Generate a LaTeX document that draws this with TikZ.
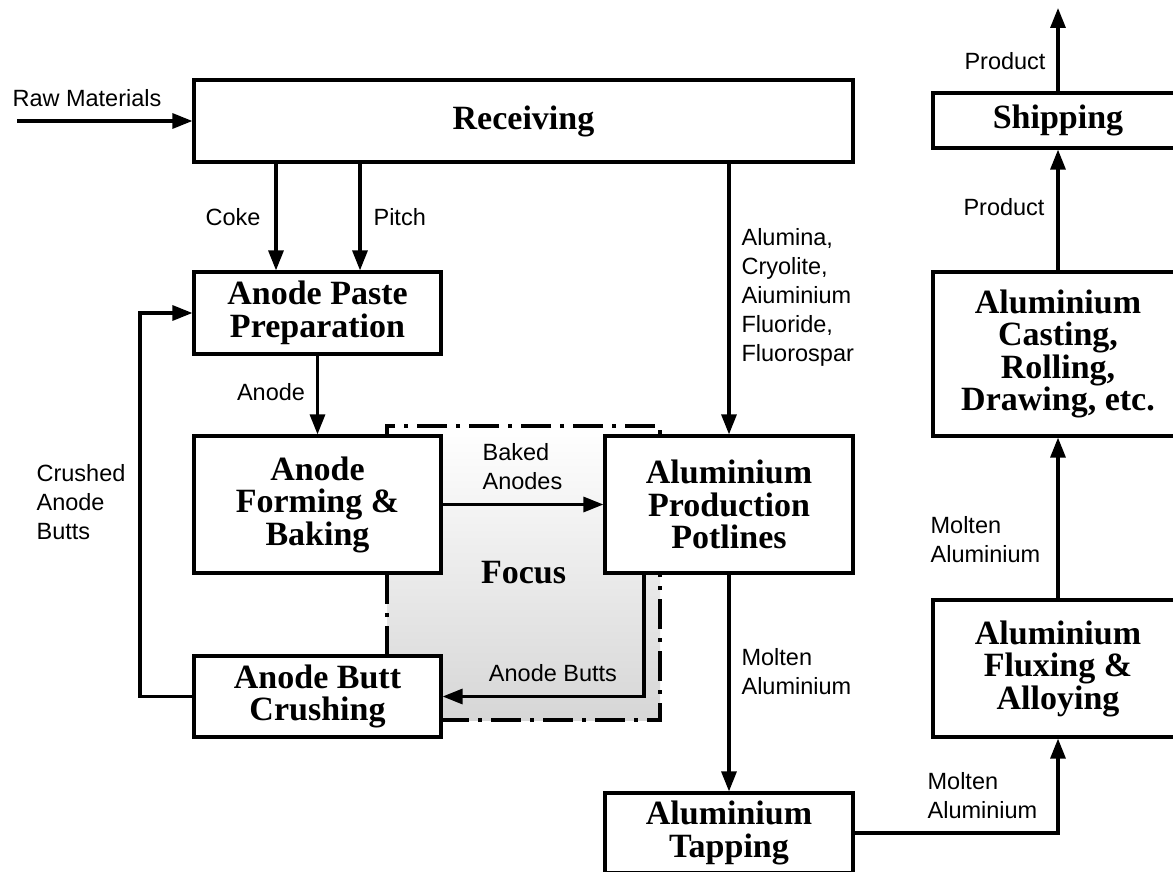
\documentclass[tikz,border=0pt]{standalone}
\usepackage[T1]{fontenc}
\usepackage{fontspec}
\newfontfamily\lblfont{Liberation Sans}
\newfontfamily\serifface{Liberation Serif}
\usetikzlibrary{arrows.meta}
% bold book-style serif for the process boxes (Palatino when present)
\newcommand\boxfont{\serifface\bfseries\fontsize{34}{32.5}\selectfont}
\IfFileExists{t1ppl.fd}{%
  \IfFileExists{uplb8a.pfb}{%
    \renewcommand\boxfont{\fontencoding{T1}\fontfamily{ppl}\bfseries\fontsize{32.5}{32}\selectfont}}{}}{}
\newcommand\labelfont{\lblfont\fontsize{23.5}{29}\selectfont}

\begin{document}
\begin{tikzpicture}[x=1pt,y=-1pt,line width=3.2pt,
  blk/.style={draw, fill=white, align=center, font=\boxfont, inner sep=0pt},
  lbl/.style={font=\labelfont, inner sep=0pt},
  arr/.style={-{Triangle[length=20pt,width=15pt]}},
  focusbox/.style={top color=white, bottom color=black!16, draw,
    dash pattern=on 30pt off 9pt on 4pt off 9pt, font=\boxfont, inner sep=0pt}]
\useasboundingbox (0,0) rectangle (1173,872);
\clip (0,0) rectangle (1173,872);

% highlighted region behind the anode loop
\node[focusbox, minimum width=273, minimum height=294] (focus) at (523.5,573) {Focus};

% process boxes
\node[blk, minimum width=659, minimum height=82]  (rec)   at (523.5,121) {Receiving};
\node[blk, minimum width=250, minimum height=55]  (ship)  at (1058,120.5) {Shipping};
\node[blk, minimum width=247, minimum height=82]  (paste) at (317.5,313) {Anode Paste\\Preparation};
\node[blk, minimum width=247, minimum height=137] (form)  at (317.5,504.5) {Anode\\Forming \&\\Baking};
\node[blk, minimum width=248, minimum height=137] (pot)   at (729,504.5) {Aluminium\\Production\\Potlines};
\node[blk, minimum width=247, minimum height=81]  (butt)  at (317.5,696.5) {Anode Butt\\Crushing};
\node[blk, minimum width=248, minimum height=80]  (tap)   at (729,833) {Aluminium\\Tapping};
\node[blk, minimum width=250, minimum height=164] (cast)  at (1058,354) {Aluminium\\Casting,\\Rolling,\\Drawing, etc.};
\node[blk, minimum width=250, minimum height=137] (flux)  at (1058,668.5) {Aluminium\\Fluxing \&\\Alloying};

% helper coordinates for connector ends
\coordinate (rawin) at (17,121);
\coordinate (cokex) at (276,0);
\coordinate (pitchx) at (360,0);
\coordinate (buttsx) at (644,0);
\coordinate (loopx) at (140,0);
\coordinate (out) at (1058,8);

% connectors
\draw[arr] (rawin) -- (rec.west);
\draw[arr] (rec.south -| cokex) -- (paste.north -| cokex);
\draw[arr] (rec.south -| pitchx) -- (paste.north -| pitchx);
\draw[arr] (rec.south -| pot.north) -- (pot.north);
\draw[arr] (paste.south) -- (form.north);
\draw[arr] (form.east) -- (pot.west);
\draw[arr] (pot.south -| buttsx) |- (butt.east);
\draw[arr] (butt.west) -- (butt.west -| loopx) -- (paste.west -| loopx) -- (paste.west);
\draw[arr] (pot.south) -- (tap.north);
\draw[arr] (tap.east) -| (flux.south);
\draw[arr] (flux.north) -- (cast.south);
\draw[arr] (cast.north) -- (ship.south);
\draw[arr] (ship.north) -- (out);

% connector labels
\node[lbl] (lraw) at (87,98) {Raw Materials};
\node[lbl, anchor=east] (lcoke) at (262,217) {Coke};
\node[lbl, anchor=west] (lpitch) at (372,217) {Pitch};
\node[lbl, anchor=west, align=left] (lalum) at (740,297) {Alumina,\\Cryolite,\\Aiuminium\\Fluoride,\\Fluorospar};
\node[lbl] (lanode) at (271,392) {Anode};
\node[lbl, anchor=west, align=left] (lcrush) at (35,502) {Crushed\\Anode\\Butts};
\node[lbl, anchor=west, align=left] (lbaked) at (481,467) {Baked\\Anodes};
\node[lbl] (lbutts) at (553,673) {Anode Butts};
\node[lbl, anchor=west, align=left] (lmolt1) at (740,672) {Molten\\Aluminium};
\node[lbl, anchor=west, align=left] (lmolt2) at (926,796) {Molten\\Aluminium};
\node[lbl, anchor=west, align=left] (lmolt3) at (929,540) {Molten\\Aluminium};
\node[lbl] (lprod1) at (1004,207) {Product};
\node[lbl] (lprod2) at (1005,61) {Product};
\end{tikzpicture}
\end{document}
